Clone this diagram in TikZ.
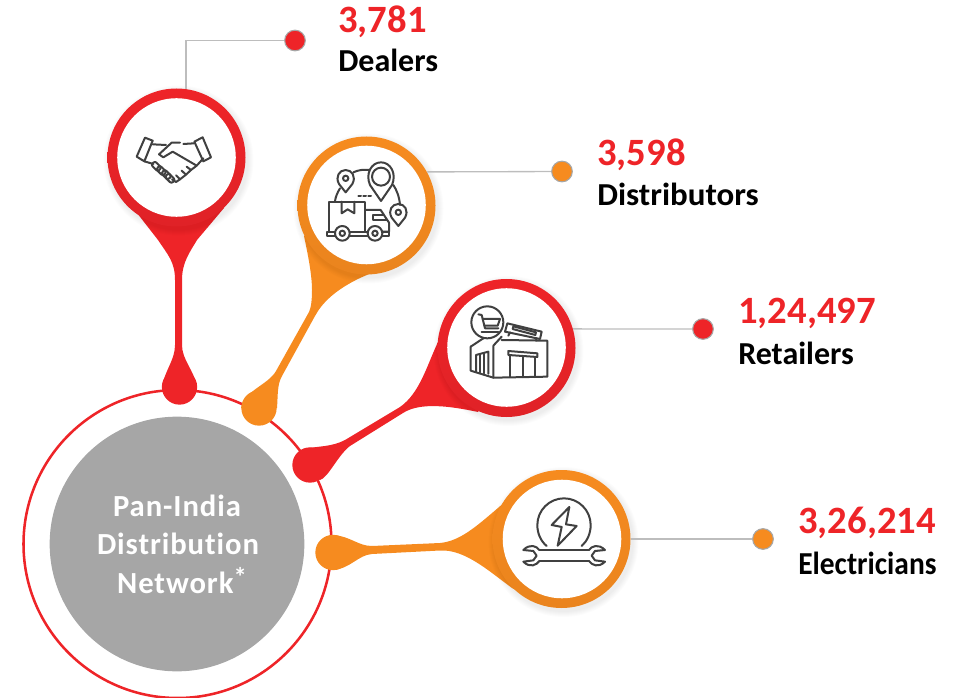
\documentclass[tikz,border=0pt]{standalone}
\usepackage{fontspec}
\setmainfont[Ligatures=NoCommon]{Carlito}
\newfontfamily\spaced[LetterSpace=3,Ligatures=NoCommon]{Carlito}
\definecolor{myred}{HTML}{EE2428}
\definecolor{myreddk}{HTML}{E02227}
\definecolor{myorange}{HTML}{F68B1F}
\definecolor{myorangedk}{HTML}{EA841E}
\definecolor{mygrey}{HTML}{A6A6A6}
\definecolor{myline}{HTML}{BDBDBD}
\definecolor{myicon}{HTML}{404040}
\tikzset{
  x=0.75pt,y=-0.75pt,
  ringbase/.style={circle,minimum size=103.5pt,inner sep=0pt,shading=axis,shading angle=-45},
  ringred/.style={ringbase,top color=myred,middle color=myred,bottom color=myreddk},
  ringorange/.style={ringbase,top color=myorange,middle color=myorange,bottom color=myorangedk},
  face/.style={circle,fill=white,minimum size=88.9pt,inner sep=0pt},
  dropnode/.style={circle,inner sep=0pt,minimum size=26.5pt},
  dotnode/.style={circle,inner sep=0pt,minimum size=15.5pt,draw=mygrey,line width=0.8pt},
  leader/.style={draw=myline,line width=1pt},
  iconline/.style={draw=myicon,line width=1.5pt,line join=round,line cap=round},
  numtext/.style={anchor=base west,inner sep=0pt,text=myred,font=\fontsize{29}{29}\selectfont\bfseries},
  labtext/.style={anchor=base west,inner sep=0pt,text=black,font=\fontsize{24}{24}\selectfont\bfseries},
  hubtext/.style={anchor=base,inner sep=0pt,text=white,font=\fontsize{23}{23}\spaced\bfseries},
}
\newcommand{\softshadow}[2]{%
  \foreach \r in {70,71,72,73,74,75}{%
    \fill[black,opacity=0.012] (#1+2,#2+3) circle[radius=\r*0.75pt];}}
\begin{document}
\begin{tikzpicture}
\useasboundingbox (0,0) rectangle (955,698);
% hub
\node[circle,draw=myred,line width=1.9pt,minimum size=231pt,inner sep=0pt] (hubring) at (177.5,544) {};
\node[circle,fill=mygrey,minimum size=191pt,inner sep=0pt] (hub) at (177,544) {};
% drops
\node[dropnode,fill=myred] (drop1) at (179.5,387) {};
\node[dropnode,fill=myorange] (drop2) at (259,408) {};
\node[dropnode,fill=myred] (drop3) at (310,465) {};
\node[dropnode,fill=myorange] (drop4) at (333,552.5) {};
% stems
\fill[myred] (137,213) -- (158,240) .. controls (168,255) and (175,262) .. (175,280) -- (175,345)
  .. controls (175,360) and (165,370) .. (162.3,386) -- (196.7,386)
  .. controls (194,370) and (182,360) .. (182,345) -- (182,280)
  .. controls (182,262) and (190,252) .. (197,240) -- (224,208) -- cycle;
\fill[myorange] (304,236) .. controls (308,255) and (312,275) .. (312,290)
  .. controls (312,300) and (311,308) .. (309,312) -- (276,371)
  .. controls (268,385) and (245,390) .. (241,408) -- (277,408)
  .. controls (278,395) and (277,385) .. (282,376) -- (315,316)
  .. controls (322,303) and (335,290) .. (360,278) -- (392,264) -- cycle;
\fill[myred] (303,449) .. controls (318,446) and (332,447) .. (345,440) -- (400,407)
  .. controls (420,393) and (427,365) .. (438,342) -- (445,320) -- (482,405) -- (478,412)
  .. controls (450,406) and (420,402) .. (403,413) -- (350,446)
  .. controls (338,455) and (328,478) .. (320,480) -- cycle;
\fill[myorange] (333,535) .. controls (350,536) and (358,546) .. (372,546) -- (440,543)
  .. controls (462,541) and (480,523) .. (505,502) -- (518,487) -- (525,595) -- (512,588)
  .. controls (490,572) and (465,549) .. (440,550.5) -- (372,554)
  .. controls (358,555) and (350,569) .. (333,570) -- cycle;
% shadows
\softshadow{176.5}{157.5}
\softshadow{366.5}{205.5}
\softshadow{506.5}{348}
\softshadow{561.5}{539}
% rings
\node[ringred] (ring1) at (176.5,157.5) {};
\node[ringorange] (ring2) at (366.5,205.5) {};
\node[ringred] (ring3) at (506.5,348) {};
\node[ringorange] (ring4) at (561.5,539) {};
\node[face] (face1) at (176.5,157.5) {};
\node[face] (face2) at (366.5,205) {};
\node[face] (face3) at (506.5,347.5) {};
\node[face] (face4) at (562,539) {};
% dots
\node[dotnode,fill=myred] (dot1) at (295,40.5) {};
\node[dotnode,fill=myorange] (dot2) at (562,171.5) {};
\node[dotnode,fill=myred] (dot3) at (703,329) {};
\node[dotnode,fill=myorange] (dot4) at (763,539) {};
% leaders
\draw[leader] (ring1.82.5) |- (dot1);
\draw[leader] (ring2.29.5) -- (dot2);
\draw[leader] (ring3.16) -- (dot3);
\draw[leader] (ring4.east) -- (dot4);
% texts
\node[numtext] (n1) at (338,32.5) {3,781};
\node[labtext] (l1) at (338,72) {Dealers};
\node[numtext] (n2) at (597,165.5) {3,598};
\node[labtext] (l2) at (597,206) {\scalebox{1.03}[1]{Distributors}};
\node[numtext] (n3) at (738,323.5) {1,24,497};
\node[labtext] (l3) at (738,364) {Retailers};
\node[numtext] (n4) at (798,533.5) {3,26,214};
\node[labtext] (l4) at (798,574) {\scalebox{0.92}[1]{Electricians}};
\node[hubtext] (h1) at (177,516) {Pan-India};
\node[hubtext] (h2) at (178,554) {Distribution};
\node[hubtext] (h3) at (182,593) {Network\raisebox{0.2em}{\fontsize{20}{20}\selectfont *}};
% handshake icon
\begin{scope}[shift={(90,20)},scale=1/3,iconline]
\draw (140,410) -- (165,353) -- (188,362) -- (163,424) -- cycle;
\draw (338,352) -- (363,412) -- (340,424) -- (313,365) -- cycle;
\draw (188,373) -- (228,375);
\draw (270,368) -- (245,368) -- (207,403) -- (220,412) -- (248,395) -- (320,437);
\draw (280,372) -- (312,370);
\draw (163,424) -- (190,432);
\draw (340,415) -- (320,437) -- (303,450) -- (290,440);
\draw (303,450) -- (288,464) -- (275,452);
\draw (288,464) -- (270,478) -- (258,466);
\draw (270,478) -- (258,486) -- (246,478);
\foreach \a/\b in {199/439,214/452,229/464,240/475}
  \draw[shift={(\a,\b)},rotate=45,rounded corners=1.5pt] (-8,-14) rectangle (8,14);
\end{scope}
% logistics icon
\begin{scope}[shift={(290,130)},scale=1/3,iconline]
\draw (190,127) .. controls (205,120) and (220,118) .. (238,120);
\draw (150,175) .. controls (142,188) and (137,200) .. (135,213);
\draw (310,165) .. controls (320,180) and (328,200) .. (330,225);
\draw (273,213) -- (240,165) .. controls (225,130) and (245,97) .. (273,97) .. controls (301,97) and (321,130) .. (306,165) -- cycle;
\draw (273,140) circle[radius=27*0.75pt];
\draw (167,187) -- (147,162) .. controls (135,140) and (148,120) .. (167,120) .. controls (186,120) and (199,140) .. (187,162) -- cycle;
\draw (167,145) circle[radius=8*0.75pt];
\draw (325,288) -- (305,263) .. controls (293,241) and (306,222) .. (325,222) .. controls (344,222) and (357,241) .. (345,263) -- cycle;
\draw (325,247) circle[radius=8*0.75pt];
\draw (205,198) -- (213,198) (220,198) -- (228,198) (235,198) -- (243,198);
\draw (135,305) -- (118,305) -- (118,215) -- (225,215) -- (225,305) -- (180,305);
\draw (155,215) -- (155,250) -- (173,238) -- (193,250) -- (193,215);
\draw (225,240) -- (272,240) -- (297,278) -- (297,305) -- (278,305);
\draw (250,255) -- (280,255) (250,255) -- (250,270) -- (290,270);
\draw (232,305) -- (180,305) (232,318) -- (180,318);
\draw (135,305) -- (110,305) -- (110,318) -- (135,318);
\draw (278,305) -- (297,305) -- (297,318) -- (278,318);
\draw[fill=white] (157,310) circle[radius=22*0.75pt];
\draw (157,310) circle[radius=8*0.75pt];
\draw[fill=white] (255,310) circle[radius=22*0.75pt];
\draw (255,310) circle[radius=8*0.75pt];
\end{scope}
% shop icon
\begin{scope}[shift={(430,275)},scale=1/3,iconline]
\draw (232,145) -- (335,170) -- (330,192) -- (225,170) -- cycle;
\draw (250,154) -- (318,172) -- (316,180) -- (248,162) -- cycle;
\draw (240,172) -- (235,182) (320,190) -- (318,197);
\draw (122,215) -- (122,287) -- (190,308) -- (352,305) -- (352,197) -- (215,195);
\draw (122,215) -- (160,190);
\draw (190,212) -- (190,308) (190,212) -- (215,185);
\draw (138,290) -- (138,240) -- (175,230) -- (175,296);
\draw (150,292) -- (150,240) (162,295) -- (162,236);
\draw (235,228) -- (322,235) -- (322,246) -- (235,240) -- cycle;
\draw (240,240) -- (240,306) (280,243) -- (280,306) (316,246) -- (316,306);
\draw[fill=white] (172,142) circle[radius=48*0.75pt];
\draw (145,118) -- (155,120) -- (165,160) -- (205,160);
\draw (158,132) -- (210,132) -- (203,152) -- (163,152);
\draw (155,170) -- (205,170);
\end{scope}
% wrench icon
\begin{scope}[shift={(490,465)},scale=1/3,iconline]
\draw (170,243) .. controls (152,228) and (142,205) .. (142,180) .. controls (142,136) and (178,100) .. (222,100) .. controls (266,100) and (302,136) .. (302,180) .. controls (302,205) and (292,228) .. (275,243);
\draw (238,126) -- (185,180) -- (215,186) -- (203,242) -- (260,183) -- (228,178) -- cycle;
\draw (148,255) -- (297,255) (148,288) -- (297,288);
\draw (148,255) .. controls (140,243) and (120,235) .. (100,255) -- (130,258) -- (140,272) -- (130,286) -- (100,290) .. controls (120,310) and (140,300) .. (148,288);
\draw (297,255) .. controls (305,243) and (325,235) .. (345,255) -- (315,258) -- (305,272) -- (315,286) -- (345,290) .. controls (325,310) and (305,300) .. (297,288);
\end{scope}
\end{tikzpicture}
\end{document}
